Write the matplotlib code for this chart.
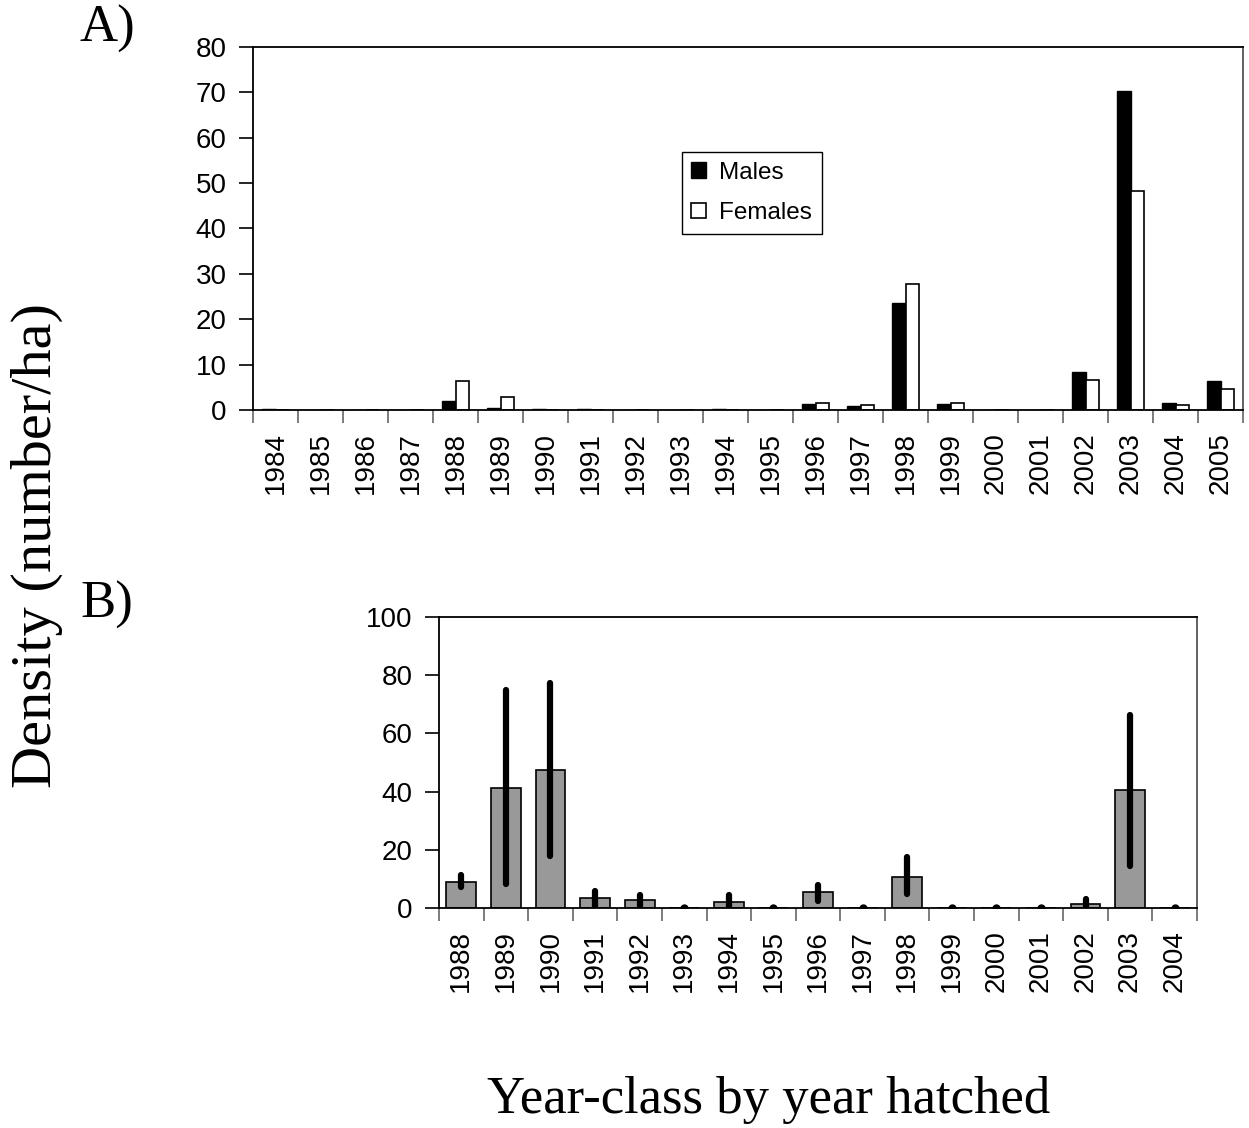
import matplotlib
matplotlib.use("Agg")
import matplotlib.pyplot as plt
import numpy as np

# ─────────────────────────────────────────────
# DATA
# ─────────────────────────────────────────────
years_a = [str(y) for y in range(1984, 2006)]
males = [0.3, 0, 0, 0, 2.0, 0.5, 0.3, 0.3, 0, 0, 0.3, 0,
         1.25, 0.9, 23.6, 1.25, 0, 0, 8.3, 70.3, 1.6, 6.4]
females = [0, 0, 0, 0, 6.4, 2.8, 0, 0, 0, 0, 0, 0,
           1.6, 1.2, 27.8, 1.6, 0, 0, 6.7, 48.2, 1.2, 4.7]

years_b = [str(y) for y in range(1988, 2005)]
density = [8.8, 41.2, 47.3, 3.4, 2.7, 0, 2.2, 0, 5.5, 0, 10.8,
           0, 0, 0, 1.4, 40.5, 0]
err_low = [7.2, 8.4, 17.7, 0, 0.6, 0, 0, 0, 2.3, 0, 4.9,
           0, 0, 0, 0, 14.5, 0]
err_high = [11.2, 74.8, 77.3, 5.7, 4.5, 0, 4.5, 0, 8.0, 0, 17.4,
            0, 0, 0, 3.0, 66.4, 0]

SANS = "Liberation Sans"
SERIF = "Liberation Serif"
TICK_FS = 20

plt.rcParams["font.family"] = SANS

fig = plt.figure(figsize=(12.49, 11.28), dpi=100, facecolor="white")


def style_axes(ax, n):
    for side in ["left", "top", "bottom"]:
        ax.spines[side].set_color("black")
        ax.spines[side].set_linewidth(1.3)
    ax.spines["right"].set_color("#555555")
    ax.spines["right"].set_linewidth(1.3)
    ax.set_xlim(-0.5, n - 0.5)
    ax.set_xticks(np.arange(n))
    ax.set_xticks(np.arange(n + 1) - 0.5, minor=True)
    ax.tick_params(axis="x", which="major", length=0, pad=16,
                   labelsize=TICK_FS, labelrotation=90)
    ax.tick_params(axis="x", which="minor", length=9, width=1.2,
                   color="#666666", direction="out")
    ax.tick_params(axis="y", which="major", length=10, width=1.2,
                   direction="out", pad=9, labelsize=TICK_FS)


# ── Panel A ─────────────────────────────────────────────────────────────────
axA = fig.add_axes([253 / 1249, 1 - 410 / 1128, 990 / 1249, 363 / 1128])
xa = np.arange(len(years_a))
axA.bar(xa - 0.15, males, width=0.3, color="black", edgecolor="black",
        linewidth=1.0, label="Males")
axA.bar(xa + 0.15, females, width=0.3, color="white", edgecolor="black",
        linewidth=1.2, label="Females")
style_axes(axA, len(years_a))
axA.set_xticklabels(years_a)
axA.set_ylim(0, 80)
axA.set_yticks(np.arange(0, 81, 10))
leg = axA.legend(loc="upper left", bbox_to_anchor=(0.433, 0.711),
                 borderaxespad=0, frameon=True, fancybox=False,
                 edgecolor="black", framealpha=1, fontsize=17.5,
                 handlelength=0.6, handleheight=0.6, handletextpad=0.55,
                 labelspacing=0.75, borderpad=0.4)
leg.get_frame().set_linewidth(1.0)

# ── Panel B ─────────────────────────────────────────────────────────────────
axB = fig.add_axes([439 / 1249, 1 - 908 / 1128, 758 / 1249, 291 / 1128])
xb = np.arange(len(years_b))
axB.bar(xb, density, width=0.67, color="#999999", edgecolor="black",
        linewidth=1.2, zorder=2)
yerr = [np.array(density) - np.array(err_low),
        np.array(err_high) - np.array(density)]
eb = axB.errorbar(xb, density, yerr=yerr, fmt="none", ecolor="black",
                  elinewidth=4.5, capsize=0, zorder=3)
for lc in eb.lines[2]:
    lc.set_capstyle("round")
# zero-length error bars still show as a round dot on the axis
flat = np.array(err_high) == np.array(err_low)
axB.scatter(xb[flat], np.array(density)[flat], s=36, color="black",
            zorder=3, clip_on=True, linewidths=0)
style_axes(axB, len(years_b))
axB.set_xticklabels(years_b)
axB.set_ylim(0, 100)
axB.set_yticks(np.arange(0, 101, 20))

# ── Figure texts ────────────────────────────────────────────────────────────
fig.text(80 / 1249, 1 - 42 / 1128, "A)", family=SERIF, fontsize=38,
         ha="left", va="baseline")
fig.text(80 / 1249, 1 - 618 / 1128, "B)", family=SERIF, fontsize=38,
         ha="left", va="baseline")
fig.text(37 / 1249, 1 - 545 / 1128, "Density (number/ha)", family=SERIF,
         fontsize=42, rotation=90, ha="center", va="center")
fig.text(769 / 1249, 1 - 1113 / 1128, "Year-class by year hatched",
         family=SERIF, fontsize=38, ha="center", va="baseline")

fig.savefig("out.png", dpi=100, facecolor="white")
